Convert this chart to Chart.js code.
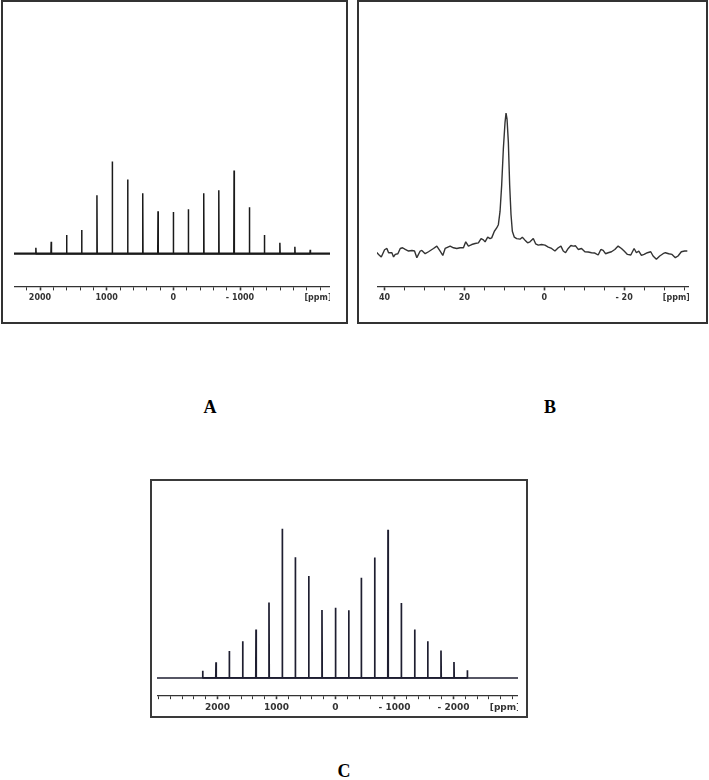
<!DOCTYPE html>
<html><head><meta charset="utf-8">
<script src="https://cdn.jsdelivr.net/npm/chart.js@4.4.1/dist/chart.umd.min.js"></script>
<style>
html,body{margin:0;padding:0;background:#fff;}
body{width:709px;height:780px;position:relative;overflow:hidden;}
.box{position:absolute;box-sizing:border-box;border:2px solid #333;background:#fff;}
.wrap{position:absolute;}
.wrap canvas{display:block;}
.lbl{position:absolute;font-family:"Liberation Serif","Times New Roman",serif;font-weight:bold;font-size:18px;line-height:18px;color:#000;transform:translateX(-50%);}
</style></head><body>
<div class="box" style="left:1px;top:0;width:347px;height:324px"></div>
<div class="box" style="left:357px;top:0;width:351px;height:324px"></div>
<div class="box" style="left:150px;top:479px;width:378px;height:239px;border-color:#3a3a3a"></div>
<div class="wrap" style="left:14px;top:20px;width:316px;height:286px"><canvas id="cA" width="316" height="286"></canvas></div>
<div class="wrap" style="left:377px;top:20px;width:312px;height:286px"><canvas id="cB" width="312" height="286"></canvas></div>
<div class="wrap" style="left:157px;top:490px;width:361px;height:226px"><canvas id="cC" width="361" height="226"></canvas></div>
<div class="lbl" style="left:210px;top:398px">A</div>
<div class="lbl" style="left:550px;top:398px">B</div>
<div class="lbl" style="left:344px;top:762px">C</div>
<script>
// ---------- Panel A : experimental spinning-sideband spectrum ----------
const A_peakPpm    = [2062,1832,1601,1375,1146,916,685,459,230,0,-225,-456,-682,-911,-1141,-1366,-1598,-1823,-2053];
const A_peakHeight = [6,12,19,24,59,93,75,61,43,42,45,61,64,84,47,19,11,7,4];
const A_tickValues = [2000,1000,0,-1000];
const A_tickLabels = ['2000','1000','0','- 1000'];

// ---------- Panel B : central line, noisy trace ----------
const B_ppm = [42.33,41.5,40.83,40.0,39.42,39.0,38.17,37.75,37.33,36.67,36.08,35.5,34.83,34.0,33.17,32.5,31.92,31.08,30.67,29.83,29.0,27.75,26.92,26.08,25.42,24.83,23.58,22.75,21.92,21.08,20.25,19.67,19.0,18.17,17.33,16.5,15.83,15.25,14.83,14.17,13.58,13.17,12.5,11.92,11.5,11.08,10.67,10.25,9.83,9.58,9.33,9.0,8.67,8.33,8.0,7.5,6.92,6.08,5.5,4.83,4.17,3.58,2.75,2.17,1.5,0.67,-0.17,-1.0,-1.83,-2.67,-3.5,-4.17,-4.75,-5.33,-6.0,-6.67,-7.25,-7.83,-8.5,-9.33,-10.17,-11.0,-11.83,-12.67,-13.5,-14.17,-14.75,-15.33,-16.0,-16.83,-17.67,-18.5,-19.33,-20.0,-20.83,-21.67,-22.5,-23.08,-23.67,-24.33,-25.0,-25.83,-26.67,-27.25,-28.08,-28.92,-29.75,-30.33,-31.17,-32.0,-32.83,-33.5,-34.33,-35.17,-35.83];
const B_intensity = [6.7,3.3,0.7,8,9.3,5,5,0.7,3.3,4,9.3,10,8.3,6.7,7.3,6.7,0,6.7,7.3,4,6,9.3,11.7,6.7,2.3,9.3,11.7,10,9.3,10,10,16,11.7,13.3,14.3,15,19.3,18,16,20.7,19.3,20,26.7,30,33.3,46.7,73.3,110,136.7,146,140,116.7,73.3,43.3,26.7,20.7,19.3,18.7,20.7,17.7,15,16,19.3,14,12.7,13.3,12.7,10.7,9.3,6.7,10,11.7,6.7,5,9.3,12.3,11.7,12,8.3,9.3,6,5.7,5,4.7,2.7,8.3,7.3,4,5,6,8.3,11.7,9.3,6.7,3.3,2.7,9.3,5,6.7,2.3,3.3,5,6,1.7,-1.7,1.7,4,5,4,3.3,0,1.7,6,6.7,6.7];
const B_tickValues = [40,20,0,-20];
const B_tickLabels = ['40','20','0','- 20'];

// ---------- Panel C : simulated spinning-sideband spectrum ----------
const C_peakPpm    = [2251,2025,1800,1573,1347,1127,902,681,454,229,0,-224,-437,-664,-890,-1115,-1342,-1563,-1788,-2008,-2234];
const C_peakHeight = [7.3,15.7,27.3,37,49,76.3,150.7,122,103,68.7,71,68.3,101.3,121.7,149.7,75.7,49,37,27.7,16,7.7];
const C_tickValues = [2000,1000,0,-1000,-2000];
const C_tickLabels = ['2000','1000','0','- 1000','- 2000'];

const UNIT_LABEL = '[ppm]';

function stickPoints(pos, h, hw){
  const pts = [];
  for(let i=0;i<pos.length;i++){
    pts.push({x:pos[i]+hw,y:0},{x:pos[i],y:h[i]},{x:pos[i]-hw,y:0});
  }
  return pts;
}
function linePoints(xs, ys){ return xs.map((x,i)=>({x:x,y:ys[i]})); }

const unitPlugin = {
  id:'unitLabel',
  afterDraw(chart, args, o){
    const s = chart.scales.x, ctx = chart.ctx;
    ctx.save();
    ctx.font = 'bold '+o.size+'px "DejaVu Sans", sans-serif';
    ctx.fillStyle = o.color;
    ctx.textAlign = 'center';
    ctx.textBaseline = 'middle';
    ctx.fillText(UNIT_LABEL, s.getPixelForValue(o.value), s.top + o.dy);
    ctx.restore();
  }
};

function makeChart(id, datasets, cfg){
  const isMajor = v => cfg.tickValues.some(t=>Math.abs(t-v)<1e-6);
  return new Chart(document.getElementById(id), {
    type:'scatter',
    data:{datasets:datasets.map(d=>({data:d.points, showLine:true, pointRadius:0, borderColor:d.color, borderWidth:d.lw, tension:0, borderJoinStyle:'bevel', fill:false}))},
    options:{
      animation:false, responsive:false, devicePixelRatio:1, events:[],
      layout:{padding:0},
      plugins:{legend:{display:false}, tooltip:{enabled:false},
        unitLabel:{value:cfg.unitValue, dy:cfg.unitDy, size:cfg.fontSize, color:'#333'}},
      scales:{
        x:{type:'linear', reverse:true, min:cfg.xmin, max:cfg.xmax,
          afterBuildTicks:(scale)=>{
            const t=[], s=cfg.step;
            for(let k=Math.ceil(cfg.xmin/s); k*s<=cfg.xmax; k++) t.push({value:k*s});
            scale.ticks=t;
          },
          border:{display:true, color:'#333', width:1.3},
          grid:{display:true, drawOnChartArea:false, drawTicks:true, tickLength:4,
                tickColor:'#333', tickWidth:c=> (c.tick && isMajor(c.tick.value)) ? 1.6 : 1},
          ticks:{stepSize:cfg.step, includeBounds:false, autoSkip:false, maxRotation:0, minRotation:0, padding:3,
                 color:'#333', font:{family:'"DejaVu Sans", sans-serif', size:cfg.fontSize, weight:'bold'},
                 callback:v=>{const i=cfg.tickValues.findIndex(t=>Math.abs(t-v)<1e-6); return i>=0?cfg.tickLabels[i]:'';}}
        },
        y:{display:false, min:cfg.ymin, max:cfg.ymax}
      }
    },
    plugins:[unitPlugin]
  });
}

const A_xmin=-2350, A_xmax=2390;
makeChart('cA', [
  {points:[{x:A_xmax,y:0},{x:A_xmin,y:0}], color:'#1a1a1a', lw:2.2},
  {points:stickPoints(A_peakPpm, A_peakHeight, 4), color:'#1a1a1a', lw:1.5}
], {
  xmin:A_xmin, xmax:A_xmax, step:200, ymin:-33, ymax:236,
  tickValues:A_tickValues, tickLabels:A_tickLabels, fontSize:8, unitValue:-2170, unitDy:12
});
makeChart('cB', [
  {points:linePoints(B_ppm, B_intensity), color:'#333', lw:1.4}
], {
  xmin:-36.25, xmax:41.9, step:5, ymin:-29, ymax:240,
  tickValues:B_tickValues, tickLabels:B_tickLabels, fontSize:8, unitValue:-33.1, unitDy:12
});
const C_xmin=-3093, C_xmax=3025;
makeChart('cC', [
  {points:[{x:C_xmax,y:0},{x:C_xmin,y:0}], color:'#1e1e30', lw:1.5},
  {points:stickPoints(C_peakPpm, C_peakHeight, 4), color:'#1e1e30', lw:1.7}
], {
  xmin:C_xmin, xmax:C_xmax, step:200, ymin:-17.5, ymax:190,
  tickValues:C_tickValues, tickLabels:C_tickLabels, fontSize:9, unitValue:-2873, unitDy:12
});
</script>
</body></html>
